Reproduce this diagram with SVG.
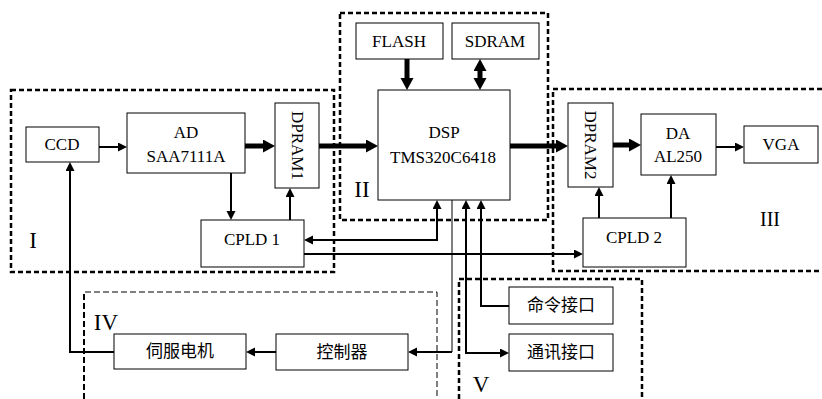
<svg xmlns="http://www.w3.org/2000/svg" width="822" height="399" viewBox="0 0 822 399">
<style>
.bg{fill:#fff}
.region{fill:none;stroke:#000;stroke-width:2.5;stroke-dasharray:5 3}
.region-thin{fill:none;stroke:#000;stroke-width:1;stroke-dasharray:6 3}
.box{fill:#fff;stroke:#000;stroke-width:1}
.t{font-family:"Liberation Serif","Times New Roman",serif;font-size:17px;fill:#000;text-anchor:middle}
.c{font-family:"Noto Sans CJK SC","Noto Sans",sans-serif;font-size:17px;fill:#000;text-anchor:middle}
.rn{font-family:"Liberation Serif","Times New Roman",serif;font-size:23px;fill:#000;text-anchor:middle}
.ln{fill:none;stroke:#000;stroke-width:2}
.ln1{fill:none;stroke:#000;stroke-width:1}
.thick{fill:none;stroke:#000;stroke-width:5}
.a{marker-end:url(#ah)}
.as{marker-start:url(#ah)}
.A{marker-end:url(#AH)}
.As{marker-start:url(#AH)}
</style>
<defs>
<marker id="ah" markerUnits="userSpaceOnUse" markerWidth="10" markerHeight="10" refX="0" refY="4.5" orient="auto-start-reverse" viewBox="0 0 10 10">
<path d="M0,0 L9,4.5 L0,9 z" fill="#000"/>
</marker>
<marker id="AH" markerUnits="userSpaceOnUse" markerWidth="13" markerHeight="14" refX="0" refY="6.5" orient="auto-start-reverse" viewBox="0 0 13 14">
<path d="M0,0 L12,6.5 L0,13 z" fill="#000"/>
</marker>
</defs>
<rect class="bg" x="0" y="0" width="822" height="399"/>
<g id="regions">
<rect id="region-I" class="region" x="11" y="90" width="323" height="182"/>
<rect id="region-II" class="region" x="340" y="13" width="208" height="207"/>
<path id="region-III" class="region" d="M822,89 H553 V271 H822"/>
<path id="region-IV" class="region-thin" d="M84,399 V292 H437 V399"/>
<path class="region-thin" d="M84,399 V292" style="stroke-width:2"/>
<path id="region-V" class="region" d="M459,399 V279 H642 V399"/>
<text class="rn" x="33" y="248">I</text>
<text class="rn" x="362" y="197">II</text>
<text class="rn" x="770" y="226" style="font-size:20px">III</text>
<text class="rn" x="106" y="330">IV</text>
<text class="rn" x="481" y="392">V</text>
</g>
<g id="connectors">
<path class="ln a" d="M99,147 H118"/>
<path class="thick A" d="M245,146 H263"/>
<path class="ln a" d="M231,173 V211"/>
<path class="ln a" d="M290,220 V197"/>
<path class="thick A" d="M319,146 H366"/>
<path class="thick A" d="M407,59 V78"/>
<path class="thick A As" d="M480,71 V78"/>
<path class="thick A" d="M510,146 H556"/>
<path class="thick A" d="M613,145 H629"/>
<path class="ln a" d="M716,147 H735"/>
<path class="ln a" d="M599,218 V196"/>
<path class="ln a" d="M671,218 V184"/>
<path class="ln a as" d="M313,240 H437 V209"/>
<path class="ln a" d="M304,254 H574"/>
<path class="ln1" d="M452,200 V352"/>
<path class="ln a" d="M452,352 H417"/>
<path class="ln a as" d="M466,209 V353 H500"/>
<path class="ln a" d="M509,306 H481 V209"/>
<path class="ln a" d="M276,352 H255"/>
<path class="ln a" d="M114,352 H70 V171"/>
</g>
<g id="node-ccd"><rect class="box" x="26" y="127" width="73" height="35"/><text class="t" x="62" y="150">CCD</text></g>
<g id="node-ad"><rect class="box" x="127" y="113" width="118" height="60"/><text class="t" x="186" y="138">AD</text><text class="t" x="186" y="162">SAA7111A</text></g>
<g id="node-dpram1"><rect class="box" x="275" y="103" width="44" height="85"/><g transform="translate(297,145.5) rotate(90)"><text class="t" x="0" y="5.5">DPRAM1</text></g></g>
<g id="node-cpld1"><rect class="box" x="201" y="220" width="103" height="47"/><text class="t" x="252" y="245">CPLD 1</text></g>
<g id="node-flash"><rect class="box" x="356" y="23" width="87" height="36"/><text class="t" x="399" y="47">FLASH</text></g>
<g id="node-sdram"><rect class="box" x="452" y="23" width="87" height="36"/><text class="t" x="495" y="47">SDRAM</text></g>
<g id="node-dsp"><rect class="box" x="378" y="90" width="132" height="110"/><text class="t" x="444" y="138">DSP</text><text class="t" x="443" y="163">TMS320C6418</text></g>
<g id="node-dpram2"><rect class="box" x="568" y="103" width="45" height="84"/><g transform="translate(590.5,145) rotate(90)"><text class="t" x="0" y="5.5">DPRAM2</text></g></g>
<g id="node-da"><rect class="box" x="641" y="114" width="75" height="61"/><text class="t" x="678" y="139">DA</text><text class="t" x="678" y="162">AL250</text></g>
<g id="node-vga"><rect class="box" x="744" y="126" width="74" height="37"/><text class="t" x="781" y="150">VGA</text></g>
<g id="node-cpld2"><rect class="box" x="583" y="218" width="103" height="49"/><text class="t" x="634" y="243">CPLD 2</text></g>
<g id="node-cmd"><rect class="box" x="509" y="287" width="104" height="37"/><text class="c" x="561" y="311">命令接口</text></g>
<g id="node-comm"><rect class="box" x="509" y="334" width="104" height="37"/><text class="c" x="561" y="358">通讯接口</text></g>
<g id="node-servo"><rect class="box" x="114" y="334" width="132" height="35"/><text class="c" x="180" y="357">伺服电机</text></g>
<g id="node-ctrl"><rect class="box" x="276" y="334" width="132" height="36"/><text class="c" x="342" y="358">控制器</text></g>
</svg>
